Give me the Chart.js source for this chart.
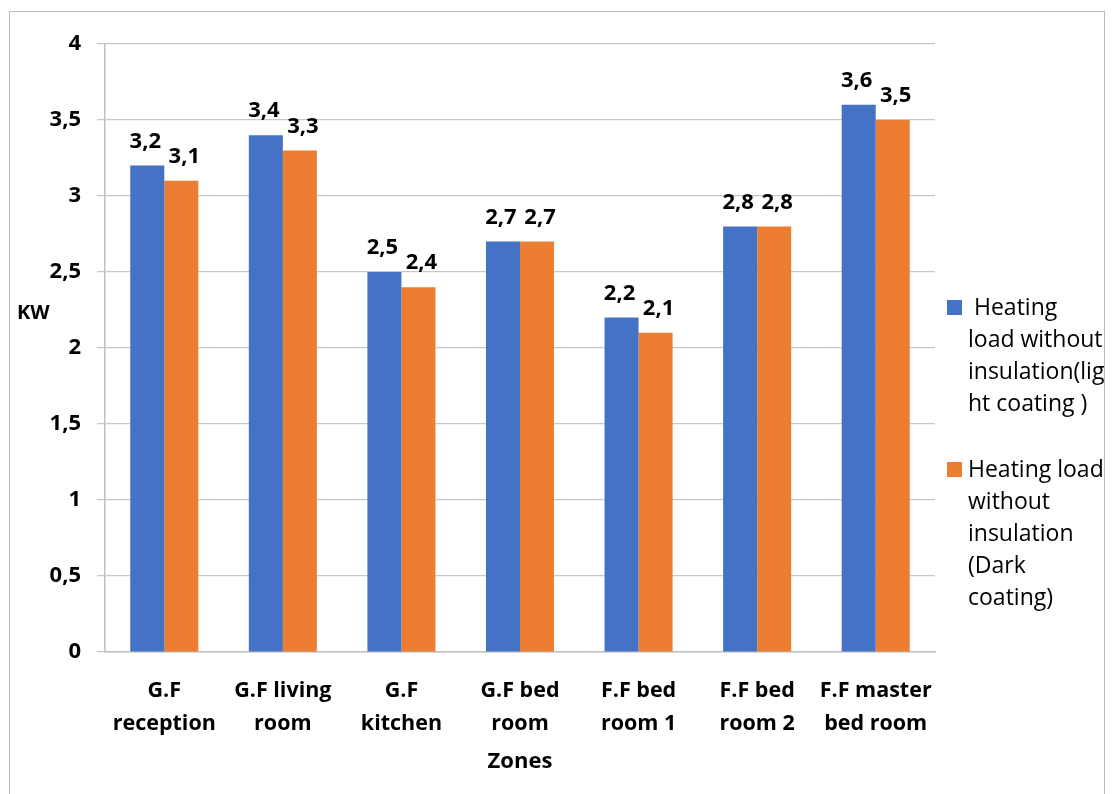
<!DOCTYPE html>
<html>
<head>
<meta charset="utf-8">
<script src="https://cdn.jsdelivr.net/npm/chart.js@4/dist/chart.umd.min.js"></script>
<style>
  html, body { margin: 0; padding: 0; background: #fff; }
  #wrap { position: relative; width: 1112px; height: 794px; overflow: hidden; }
  #frame { position: absolute; left: 9px; top: 11px; width: 1096px; height: 820px; border: 1px solid #bcbcbc; box-sizing: border-box; }
  canvas { position: absolute; left: 0; top: 0; }
</style>
</head>
<body>
<div id="wrap">
  <div id="frame"></div>
  <canvas id="chart" width="1112" height="794"></canvas>
</div>
<script>
// 数据
const zones = [
    ['G.F', 'reception'],
    ['G.F living', 'room'],
    ['G.F', 'kitchen'],
    ['G.F bed', 'room'],
    ['F.F bed', 'room 1'],
    ['F.F bed', 'room 2'],
    ['F.F master', 'bed room']
];
const lightCoating = [3.2, 3.4, 2.5, 2.7, 2.2, 2.8, 3.6];
const darkCoating = [3.1, 3.3, 2.4, 2.7, 2.1, 2.8, 3.5];
const lightLegend = [' Heating', 'load without', 'insulation(lig', 'ht coating )'];
const darkLegend = ['Heating load', 'without', 'insulation', '(Dark', 'coating)'];
const yTitle = 'KW';
const xTitle = 'Zones';

const FONT = '"Open Sans", "Liberation Sans", sans-serif';
const comma = v => String(v).replace('.', ',');

// 数值标签 + 图例 + 轴标题
const extrasPlugin = {
    id: 'extras',
    afterDatasetsDraw(chart) {
        const ctx = chart.ctx;
        const area = chart.chartArea;
        ctx.save();
        ctx.fillStyle = '#000';
        ctx.textAlign = 'center';
        ctx.textBaseline = 'middle';
        ctx.font = 'bold 22px ' + FONT;
        chart.data.datasets.forEach((ds, i) => {
            chart.getDatasetMeta(i).data.forEach((bar, j) => {
                ctx.fillText(comma(ds.data[j]), bar.x + (i ? 3 : -2), bar.y - 24);
            });
        });

        // 轴标题
        ctx.font = 'bold 20px ' + FONT;
        ctx.textAlign = 'left';
        ctx.fillText(yTitle, 17, 313);
        ctx.font = 'bold 22px ' + FONT;
        ctx.textAlign = 'center';
        ctx.fillText(xTitle, (area.left + area.right) / 2, 762);

        // 图例
        const drawEntry = (lines, color, top) => {
            ctx.fillStyle = color;
            ctx.fillRect(947, top - 8, 15, 15);
            ctx.fillStyle = '#000';
            ctx.font = '23px ' + FONT;
            ctx.textAlign = 'left';
            lines.forEach((line, k) => ctx.fillText(line, 968, top + k * 32));
        };
        drawEntry(lightLegend, chart.data.datasets[0].backgroundColor, 308);
        drawEntry(darkLegend, chart.data.datasets[1].backgroundColor, 470);
        ctx.restore();
    }
};

new Chart(document.getElementById('chart'), {
    type: 'bar',
    data: {
        labels: zones,
        datasets: [
            { label: 'Heating load without insulation(light coating )', data: lightCoating, backgroundColor: '#4472C4' },
            { label: 'Heating load without insulation (Dark coating)', data: darkCoating, backgroundColor: '#ED7D31' }
        ]
    },
    options: {
        responsive: false,
        animation: false,
        layout: { padding: { left: 0, top: 44, right: 177, bottom: 0 } },
        datasets: {
            bar: { barPercentage: 1, categoryPercentage: 0.574 }
        },
        plugins: {
            legend: { display: false },
            tooltip: { enabled: false }
        },
        scales: {
            x: {
                grid: { display: false },
                border: { display: true, color: '#bfbfbf', width: 1.5 },
                ticks: {
                    color: '#000',
                    font: { family: FONT, size: 21.5, weight: 'bold', lineHeight: 1.5 },
                    padding: 15,
                    maxRotation: 0,
                    autoSkip: false
                },
                afterFit(scale) { scale.height = 142; }
            },
            y: {
                min: 0,
                max: 4,
                ticks: {
                    stepSize: 0.5,
                    color: '#000',
                    font: { family: FONT, size: 22, weight: 'bold' },
                    padding: 16,
                    callback: v => comma(v)
                },
                grid: { color: '#c8c8c8', lineWidth: 1.2, tickLength: 8 },
                border: { display: true, color: '#bfbfbf', width: 1.5 },
                afterFit(scale) { scale.width = 105; }
            }
        }
    },
    plugins: [extrasPlugin]
});
</script>
</body>
</html>
